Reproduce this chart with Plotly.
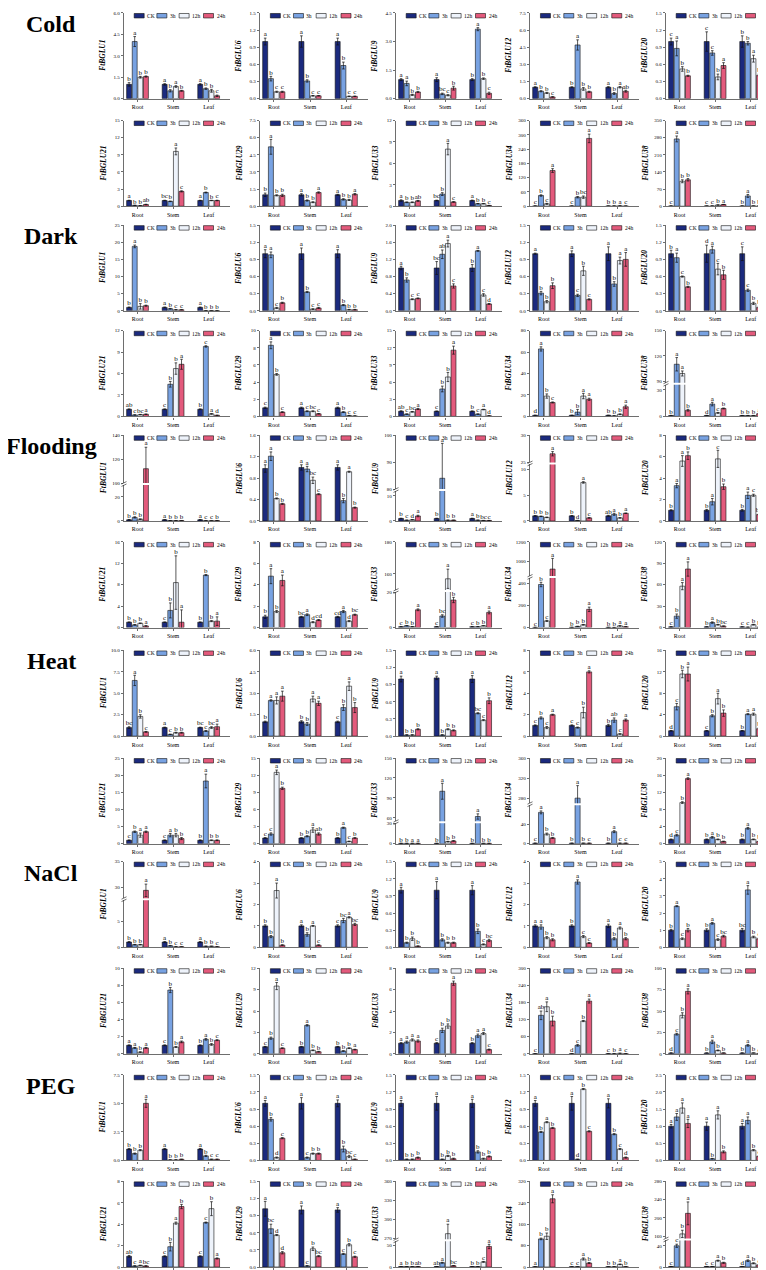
import plotly.graph_objects as go

W, H = 766, 1270
FONT = "Liberation Serif"
AXC = "#6e6e6e"

conditions = ["Cold", "Dark", "Flooding", "Heat", "NaCl", "PEG"]
genes = ["FtBGLU1", "FtBGLU6", "FtBGLU9", "FtBGLU12", "FtBGLU20",
         "FtBGLU21", "FtBGLU29", "FtBGLU33", "FtBGLU34", "FtBGLU38"]
tissues = ["Root", "Stem", "Leaf"]
times = ["CK", "3h", "12h", "24h"]
colors = ["#1b2a7e", "#78a2e2", "#eef3fb", "#e35a7c"]

# ---- values: each gene row = Root(CK,3h,12h,24h), Stem(...), Leaf(...) ----
cold_mean = [
    [1.0, 4.0, 1.5, 1.55, 1.0, 0.55, 0.85, 0.55, 1.0, 0.7, 0.55, 0.2],
    [1.0, 0.35, 0.12, 0.12, 1.0, 0.31, 0.05, 0.05, 1.0, 0.58, 0.04, 0.04],
    [1.0, 0.8, 0.2, 0.35, 1.0, 0.25, 0.18, 0.55, 1.0, 3.65, 1.05, 0.28],
    [1.0, 0.65, 0.5, 0.15, 1.0, 4.7, 0.85, 0.6, 1.0, 0.45, 1.0, 0.65],
    [1.0, 0.88, 0.52, 0.4, 1.0, 0.8, 0.38, 0.58, 1.0, 0.97, 0.7, 0.41],
    [1.0, 0.15, 0.1, 0.3, 1.0, 0.85, 9.6, 2.6, 1.0, 2.4, 1.0, 1.0],
    [1.0, 5.2, 0.95, 0.95, 1.0, 0.5, 0.35, 1.2, 1.0, 0.6, 0.55, 1.05],
    [0.8, 0.55, 0.55, 0.75, 0.8, 1.7, 8.0, 0.6, 0.8, 0.35, 0.35, 0.1],
    [1, 45, 10, 150, 1, 38, 38, 285, 1, 1, 1.5, 0.8],
    [1, 275, 102, 108, 1, 1, 5, 7, 1, 42, 1, 1],
]
cold_err = [
    [0.12, 0.35, 0.06, 0.04, 0.05, 0.08, 0.06, 0.03, 0.05, 0.05, 0.1, 0.05],
    [0.06, 0.04, 0.01, 0.01, 0.1, 0.02, 0.005, 0.005, 0.06, 0.06, 0.005, 0.005],
    [0.05, 0.12, 0.03, 0.03, 0.1, 0.04, 0.03, 0.1, 0.05, 0.08, 0.04, 0.06],
    [0.04, 0.05, 0.05, 0.03, 0.04, 0.45, 0.12, 0.05, 0.05, 0.08, 0.06, 0.08],
    [0.06, 0.13, 0.04, 0.01, 0.17, 0.04, 0.05, 0.05, 0.1, 0.03, 0.06, 0.02],
    [0.05, 0.02, 0.02, 0.05, 0.05, 0.05, 0.6, 0.1, 0.05, 0.08, 0.04, 0.05],
    [0.15, 0.65, 0.05, 0.1, 0.1, 0.05, 0.04, 0.06, 0.04, 0.06, 0.05, 0.06],
    [0.1, 0.05, 0.05, 0.06, 0.05, 0.2, 0.8, 0.05, 0.06, 0.03, 0.03, 0.02],
    [0.2, 3, 2, 8, 0.2, 3, 5, 18, 0.1, 0.1, 0.2, 0.1],
    [0.2, 12, 6, 5, 0.2, 0.2, 0.5, 0.5, 0.2, 6, 0.1, 0.1],
]
cold_letters = [
    "b a b b a b a b a b b c", "a b c c a b c c a b c c",
    "a a b b a bc c b b a b c", "a b b c b a b b a b a ab",
    "c a b b c c b a b b a b", "a b b ab bc b a c a b b c",
    "b a b b a b b a a b b a", "a b b ab bc b a c a b b c",
    "c b c a c b bc a b b a c", "c a b b c c b a b a b b",
]
cold_ymax = [6.0, 1.5, 4.5, 7.5, 1.5, 15, 7.5, 12, 360, 350]
cold_dtick = [1.5, 0.3, 1.5, 1.5, 0.3, 3, 1.5, 3, 60, 70]

dark_mean = [
    [1.0, 18.8, 1.3, 1.5, 1.0, 0.6, 0.3, 0.3, 1.0, 0.05, 0.05, 0.05],
    [1.0, 0.98, 0.05, 0.14, 1.0, 0.33, 0.03, 0.05, 1.0, 0.1, 0.02, 0.02],
    [1.0, 0.72, 0.27, 0.29, 1.0, 1.32, 1.57, 0.58, 1.0, 1.4, 0.37, 0.16],
    [1.0, 0.31, 0.16, 0.44, 1.0, 0.27, 0.7, 0.2, 1.0, 0.47, 0.88, 0.9],
    [1.0, 0.93, 0.6, 0.42, 1.0, 1.07, 0.73, 0.63, 1.0, 0.36, 0.13, 0.06],
    [1.0, 0.2, 0.25, 0.3, 1.0, 4.5, 6.7, 7.3, 1.0, 9.8, 0.35, 0.15],
    [1.0, 8.3, 4.9, 0.5, 1.0, 0.6, 0.6, 0.3, 1.0, 0.5, 0.1, 0.05],
    [0.9, 0.4, 0.8, 1.3, 0.9, 4.8, 6.9, 11.6, 0.9, 0.4, 1.2, 0.1],
    [1, 63, 19, 13, 1, 4, 19, 16, 1, 0.5, 2, 9],
    [1, 110, 99, 7, 1, 14, 4, 9, 1, 1, 1, 3],
]
dark_err = [
    [0.1, 0.4, 0.8, 0.15, 0.1, 0.1, 0.05, 0.05, 0.1, 0.01, 0.01, 0.01],
    [0.07, 0.05, 0.01, 0.01, 0.1, 0.01, 0.005, 0.01, 0.07, 0.01, 0.005, 0.005],
    [0.04, 0.05, 0.01, 0.01, 0.15, 0.1, 0.08, 0.05, 0.08, 0.01, 0.03, 0.01],
    [0.01, 0.03, 0.02, 0.05, 0.05, 0.02, 0.08, 0.01, 0.12, 0.04, 0.06, 0.12],
    [0.06, 0.08, 0.01, 0.01, 0.15, 0.06, 0.1, 0.08, 0.12, 0.02, 0.02, 0.02],
    [0.05, 0.02, 0.03, 0.03, 0.05, 0.4, 0.8, 0.7, 0.05, 0.1, 0.05, 0.02],
    [0.08, 0.4, 0.1, 0.05, 0.08, 0.05, 0.05, 0.03, 0.08, 0.05, 0.02, 0.01],
    [0.08, 0.03, 0.05, 0.1, 0.05, 0.5, 0.8, 0.7, 0.06, 0.03, 0.05, 0.02],
    [0.2, 2, 2, 0.5, 0.2, 2.5, 2.5, 1, 0.2, 0.1, 0.3, 1.5],
    [0.2, 8, 3, 1, 0.2, 2, 0.5, 0.5, 0.1, 0.1, 0.1, 0.5],
]
dark_letters = [
    "b a b b a b c c a b b b", "a a c b a b c c a b b b",
    "a b c c bc ab a c b a c d", "a b b b a c b c a b a a",
    "b a c b d a c b c c b b", "ab c bc a c b b a b c a d",
    "c a b c a c bc c a b c c", "ab c bc a c b b a b c a d",
    "d a b c b b a a b b b a", "b a a b d a c b b b b a",
]
dark_ymax = [25, 1.5, 2.0, 1.5, 1.5, 12, 10, 15, 80, None]
dark_dtick = [5, 0.3, 0.4, 0.3, 0.3, 3, 2, 3, 20, None]

flood_mean = [
    [1, 3, 1.5, 112, 1, 0.3, 0.3, 0.3, 1, 0.2, 0.2, 0.3],
    [0.98, 1.21, 0.42, 0.32, 1.0, 0.97, 0.76, 0.5, 1.0, 0.38, 0.92, 0.25],
    [1, 0.3, 0.5, 2, 1, 84, 0.3, 0.3, 1, 0.3, 0.2, 0.2],
    [1.0, 0.9, 0.7, 26.6, 1, 0.1, 7.5, 0.6, 1.0, 1.3, 0.6, 1.5],
    [1.0, 3.3, 5.6, 6.1, 1.0, 1.8, 5.8, 3.2, 1.0, 2.4, 2.4, 0.6],
    [1.0, 0.5, 0.8, 0.3, 1.0, 3.2, 8.4, 1.0, 1.0, 9.8, 1.2, 1.2],
    [1.0, 4.8, 1.5, 4.4, 1.0, 1.2, 0.5, 0.7, 1.0, 1.5, 0.6, 1.2],
    [0.5, 1, 0.5, 10, 0.5, 6.5, 157, 15.5, 0.5, 0.5, 1, 8.5],
    [2, 390, 60, 920, 2, 10, 25, 165, 2, 1, 15, 8],
    [1, 16, 58, 82, 1, 7, 4, 2, 1, 0.5, 4, 0.5],
]
flood_err = [
    [0.2, 0.5, 0.2, 18, 0.1, 0.05, 0.05, 0.05, 0.1, 0.05, 0.05, 0.05],
    [0.07, 0.08, 0.01, 0.01, 0.05, 0.05, 0.06, 0.01, 0.05, 0.04, 0.01, 0.01],
    [0.1, 0.05, 0.05, 0.3, 0.1, 13, 0.05, 0.05, 0.1, 0.05, 0.03, 0.03],
    [0.05, 0.05, 0.05, 0.4, 0.05, 0.02, 0.15, 0.05, 0.1, 0.2, 0.05, 0.05],
    [0.05, 0.2, 0.5, 0.35, 0.08, 0.3, 0.8, 0.25, 0.08, 0.3, 0.1, 0.05],
    [0.05, 0.05, 0.05, 0.05, 0.05, 1.4, 5.0, 2.3, 0.05, 0.1, 0.1, 0.8],
    [0.15, 0.7, 0.1, 0.5, 0.05, 0.08, 0.05, 0.05, 0.05, 0.1, 0.05, 0.05],
    [0.1, 0.1, 0.1, 0.5, 0.1, 0.7, 6, 1.5, 0.1, 0.1, 0.1, 0.8],
    [0.5, 20, 5, 110, 0.5, 2, 3, 20, 0.5, 0.3, 2, 1],
    [0.2, 3, 5, 10, 0.2, 1, 0.5, 0.3, 0.1, 0.1, 0.5, 0.1],
]
flood_letters = [
    "b b b a a b b b a c c b", "a a b b a a bc c a b a b",
    "b c d a b a b b a b bc c", "b b b a b d a c ab a b a",
    "b a a b b a c b b a c bc", "b b b a c b b a b b b a",
    "b a b a bc a d cd cd a d bc", "c b b a c bc a b c b b a",
    "c b c a b b b a b b a a", "c b a a b a b bc c c b b",
]
flood_ymax = [None, 1.6, None, None, 8, 16, 8, None, None, 120]
flood_dtick = [None, 0.4, None, None, 2, 4, 2, None, None, 30]

heat_mean = [
    [1.0, 6.5, 2.3, 0.5, 1.0, 0.2, 0.4, 0.4, 1.0, 0.6, 1.0, 1.1],
    [1.0, 2.5, 2.5, 2.8, 1.0, 0.85, 2.6, 2.3, 1.0, 2.0, 3.5, 2.0],
    [1.0, 0.02, 0.02, 0.12, 1.02, 0.02, 0.12, 0.1, 1.0, 0.4, 0.28, 0.62],
    [1.0, 1.7, 0.8, 2.0, 1.0, 0.8, 2.2, 6.0, 1.0, 1.5, 0.2, 1.5],
    [1.0, 5.5, 11.6, 11.6, 1.0, 3.8, 7.0, 4.3, 1.0, 4.1, 4.1, 1.4],
    [1, 3.5, 2.5, 3.5, 1, 2.5, 2.5, 1.5, 1, 18.3, 1, 1],
    [1, 1.7, 12.5, 9.7, 1, 1.3, 2.4, 1.7, 1, 2.8, 0.4, 1],
    [0.5, 0.5, 0.5, 0.5, 0.5, 100, 3, 4, 0.5, 62, 0.5, 0.5],
    [1, 65, 20, 12, 1, 280, 1, 1, 1, 25, 1, 1],
    [1, 2, 9.6, 15.2, 1, 1.5, 1, 0.5, 1, 3.6, 1, 0.5],
]
heat_err = [
    [0.1, 0.6, 0.2, 0.05, 0.05, 0.03, 0.05, 0.05, 0.05, 0.05, 0.1, 0.3],
    [0.05, 0.05, 0.25, 0.35, 0.08, 0.1, 0.2, 0.15, 0.05, 0.2, 0.3, 0.35],
    [0.05, 0.005, 0.005, 0.01, 0.03, 0.005, 0.01, 0.01, 0.06, 0.01, 0.01, 0.05],
    [0.05, 0.1, 0.1, 0.05, 0.05, 0.05, 0.5, 0.1, 0.1, 0.2, 0.02, 0.1],
    [0.05, 0.6, 0.7, 1.3, 0.05, 0.2, 1.0, 0.6, 0.05, 0.1, 0.2, 0.2],
    [0.1, 0.2, 0.6, 0.2, 0.1, 0.5, 0.5, 0.3, 0.1, 2.0, 0.1, 0.1],
    [0.05, 0.2, 0.4, 0.2, 0.05, 0.1, 0.4, 0.2, 0.05, 0.1, 0.05, 0.05],
    [0.1, 0.1, 0.1, 0.1, 0.1, 12, 0.5, 0.5, 0.1, 4, 0.1, 0.1],
    [0.2, 3, 2, 1, 0.2, 25, 0.2, 0.2, 0.2, 2, 0.2, 0.2],
    [0.1, 0.2, 0.2, 0.2, 0.1, 0.2, 0.1, 0.1, 0.1, 0.2, 0.1, 0.1],
]
heat_letters = [
    "bc a b c a c b b bc c bc a", "b a a a b b a a c b a b",
    "a b b b a b b b a bc c b", "c b c a c c b a b ab c a",
    "d c b a c b a b b a a b", "c b a a c a b b b a b b",
    "c c a b b b a ab b a c b", "b b a a b a b b b a b b",
    "c a b b b a b c b a c c", "d c b a b a b b b a b b",
]
heat_ymax = [10.0, 6.0, 1.5, 8, 16, 25, 15, None, None, 20]
heat_dtick = [2.5, 1.5, 0.3, 2, 4, 5, 3, None, None, 4]

nacl_mean = [
    [1, 0.5, 0.5, 29.5, 1, 0.3, 0.1, 0.1, 1, 0.2, 0.2, 0.1],
    [1.0, 0.5, 2.65, 0.1, 1.0, 0.6, 1.0, 0.1, 1.0, 1.25, 1.4, 1.07],
    [1.0, 0.08, 0.15, 0.02, 1.0, 0.13, 0.08, 0.08, 1.0, 0.28, 0.05, 0.12],
    [1.0, 0.95, 0.45, 0.35, 1.0, 3.05, 0.5, 0.2, 1.0, 0.4, 0.9, 0.4],
    [1.0, 2.4, 0.5, 1.0, 1.0, 1.4, 0.45, 0.65, 1.0, 3.35, 0.6, 0.5],
    [1.0, 0.7, 0.2, 0.7, 1.0, 7.45, 0.8, 1.4, 1.0, 1.7, 1.1, 1.6],
    [1.0, 2.2, 9.5, 0.8, 1.0, 4.0, 0.5, 0.3, 1.0, 0.4, 0.8, 0.6],
    [1.0, 1.1, 1.3, 1.2, 1.0, 2.2, 2.6, 6.6, 1.0, 1.7, 1.9, 0.4],
    [1, 135, 165, 115, 1, 30, 115, 185, 1, 1, 2, 1],
    [1, 23, 45, 73, 1, 14, 4, 1, 1, 10, 1, 0.5],
]
nacl_err = [
    [0.1, 0.05, 0.05, 1.2, 0.1, 0.05, 0.02, 0.02, 0.1, 0.03, 0.03, 0.02],
    [0.05, 0.05, 0.35, 0.02, 0.05, 0.08, 0.02, 0.02, 0.05, 0.1, 0.03, 0.05],
    [0.05, 0.01, 0.03, 0.005, 0.15, 0.02, 0.01, 0.01, 0.08, 0.04, 0.01, 0.02],
    [0.05, 0.1, 0.05, 0.05, 0.05, 0.1, 0.05, 0.02, 0.08, 0.05, 0.05, 0.05],
    [0.05, 0.03, 0.05, 0.1, 0.08, 0.05, 0.05, 0.05, 0.1, 0.25, 0.05, 0.05],
    [0.05, 0.05, 0.05, 0.05, 0.05, 0.3, 0.05, 0.1, 0.05, 0.1, 0.1, 0.05],
    [0.05, 0.15, 0.5, 0.05, 0.05, 0.1, 0.05, 0.05, 0.05, 0.05, 0.05, 0.05],
    [0.05, 0.1, 0.1, 0.1, 0.05, 0.2, 0.2, 0.2, 0.05, 0.15, 0.1, 0.05],
    [0.2, 15, 17, 17, 0.2, 3, 2, 7, 0.2, 0.2, 0.3, 0.2],
    [0.1, 1, 3, 3, 0.1, 2, 0.5, 0.1, 0.1, 1, 0.1, 0.1],
]
nacl_letters = [
    "b b b a a b c c a b b c", "b b a b a b a c c bc a bc",
    "a b b b a b b b a b c bc", "a a b b b a c c a b a b",
    "b a c b b a c bc bc a b c", "a a b a c b b a b a b c",
    "c b a c b a b b b b b a", "a a a a c b b a b a a c",
    "c ab a b d c b a c b a c", "d c b a b a b b b a b c",
]
nacl_ymax = [None, 4, 1.5, 4, 5, 10, 12, 8, 300, 100]
nacl_dtick = [None, 1, 0.3, 1, 1, 2, 3, 2, 60, 25]

peg_mean = [
    [1.0, 0.6, 0.9, 5.0, 1.0, 0.05, 0.05, 0.1, 1.0, 0.4, 0.1, 0.1],
    [1.0, 0.72, 0.05, 0.39, 1.0, 0.05, 0.12, 0.12, 1.0, 0.2, 0.07, 0.02],
    [1.0, 0.02, 0.02, 0.05, 1.0, 0.02, 0.08, 0.03, 1.0, 0.15, 0.03, 0.07],
    [1.0, 0.5, 0.67, 0.57, 1.0, 0.02, 1.25, 0.51, 1.0, 0.46, 0.2, 0.05],
    [1.0, 1.27, 1.53, 1.08, 1.0, 0.05, 1.33, 0.25, 1.0, 1.17, 0.3, 0.12],
    [1.0, 0.1, 0.15, 0.1, 1.0, 1.9, 4.1, 5.65, 1.0, 4.15, 5.45, 0.8],
    [1.02, 0.67, 0.56, 0.25, 1.0, 0.02, 0.32, 0.19, 1.0, 0.23, 0.39, 0.18],
    [1, 1, 1, 1, 1, 10, 277, 3, 1, 1, 12, 48],
    [1, 105, 115, 255, 1, 1, 30, 15, 1, 1, 10, 1],
    [1, 40, 165, 210, 1, 1, 12, 8, 1, 12, 7, 4],
]
peg_err = [
    [0.05, 0.05, 0.05, 0.35, 0.05, 0.01, 0.01, 0.02, 0.05, 0.05, 0.02, 0.02],
    [0.05, 0.03, 0.01, 0.01, 0.1, 0.01, 0.01, 0.01, 0.06, 0.05, 0.02, 0.005],
    [0.05, 0.005, 0.005, 0.01, 0.12, 0.005, 0.01, 0.01, 0.07, 0.02, 0.01, 0.01],
    [0.05, 0.01, 0.01, 0.01, 0.12, 0.005, 0.01, 0.01, 0.08, 0.01, 0.01, 0.01],
    [0.05, 0.1, 0.15, 0.12, 0.12, 0.01, 0.12, 0.03, 0.08, 0.1, 0.02, 0.02],
    [0.08, 0.02, 0.02, 0.02, 0.05, 0.4, 0.1, 0.2, 0.05, 0.05, 0.65, 0.05],
    [0.13, 0.08, 0.01, 0.02, 0.07, 0.005, 0.03, 0.01, 0.04, 0.01, 0.02, 0.01],
    [0.1, 0.1, 0.1, 0.1, 0.1, 1, 15, 0.5, 0.1, 0.1, 1, 5],
    [0.2, 3, 12, 15, 0.2, 0.2, 4, 2, 0.1, 0.1, 1, 0.1],
    [0.1, 3, 8, 25, 0.1, 0.1, 1, 1, 0.1, 1.5, 1, 0.5],
]
peg_letters = [
    "b b b a a b b b a b c c", "a b d c a c b b a b bc c",
    "a b b b a b b b a b b b", "a b a b a d b c a b c d",
    "a a a a a b a b a a b c", "ab c a bc c b a b c c b a",
    "a bc d d a c b bc a c b c", "a b b ab ab a a bc b b c a",
    "a b b a c c a b b b a b", "c c b a c c a b d a b c",
]
peg_ymax = [7.5, 1.5, 1.5, 1.5, 2.5, 8, 1.5, None, 320, None]
peg_dtick = [2.5, 0.3, 0.3, 0.3, 0.5, 2, 0.3, None, 80, None]

# broken y axes: lower range, fraction of height for lower part, upper range, ticks
breaks = {
    ("Dark", 9): dict(lo=(0, 36), frac=0.37, hi=(88, 150), lt=[0, 30], ht=[90, 120, 150]),
    ("Flooding", 0): dict(lo=(0, 30), frac=0.42, hi=(100, 140), lt=[0, 20], ht=[100, 120, 140]),
    ("Flooding", 2): dict(lo=(0, 12), frac=0.35, hi=(80, 100), lt=[0, 10], ht=[80, 90, 100]),
    ("Flooding", 3): dict(lo=(0, 11), frac=0.66, hi=(25, 30), lt=[0, 5, 10], ht=[25, 30]),
    ("Flooding", 7): dict(lo=(0, 20), frac=0.415, hi=(150, 180), lt=[0, 20], ht=[160, 180]),
    ("Flooding", 8): dict(lo=(0, 450), frac=0.58, hi=(850, 1200), lt=[0, 200, 400], ht=[1000, 1200]),
    ("Heat", 7): dict(lo=(0, 30), frac=0.24, hi=(55, 150), lt=[0, 30], ht=[60, 90, 120, 150]),
    ("Heat", 8): dict(lo=(0, 80), frac=0.45, hi=(270, 360), lt=[0, 40], ht=[280, 320, 360]),
    ("NaCl", 0): dict(lo=(0, 9), frac=0.55, hi=(28, 35), lt=[0, 5], ht=[30, 35]),
    ("PEG", 7): dict(lo=(0, 60), frac=0.30, hi=(268, 360), lt=[0, 50], ht=[270, 300, 330, 360]),
    ("PEG", 9): dict(lo=(0, 50), frac=0.31, hi=(155, 280), lt=[0, 40], ht=[160, 200, 240, 280]),
}

cond_sets = {
    "Cold": (cold_mean, cold_err, cold_letters, cold_ymax, cold_dtick),
    "Dark": (dark_mean, dark_err, dark_letters, dark_ymax, dark_dtick),
    "Flooding": (flood_mean, flood_err, flood_letters, flood_ymax, flood_dtick),
    "Heat": (heat_mean, heat_err, heat_letters, heat_ymax, heat_dtick),
    "NaCl": (nacl_mean, nacl_err, nacl_letters, nacl_ymax, nacl_dtick),
    "PEG": (peg_mean, peg_err, peg_letters, peg_ymax, peg_dtick),
}

# ---- layout geometry (pixels) ----
col_left = [116, 252, 388, 522, 658]
col_right = [222, 360, 494, 631, 764]
row_top = [3, 111, 216, 322, 427, 534, 643, 751, 855, 962, 1069, 1176]
PH = 86
GAP = 2
XRANGE = [-0.38, 2.6]
SLOT = 0.158
BARW = 0.138
leg_f = [0.096, 0.31, 0.52, 0.75]


def px(xp):
    return xp / W


def py(yp):
    return 1 - yp / H


fig = go.Figure()
lay = {}
shapes = []
annots = []
counter = [0]


def fmt(v):
    if abs(v - round(v)) < 1e-9:
        return str(int(round(v)))
    return ("%.1f" % v)


def new_axes(xd, yd, yrange, tvals, ttext, show_x):
    counter[0] += 1
    i = counter[0]
    sfx = "" if i == 1 else str(i)
    lay["xaxis" + sfx] = dict(
        domain=xd, range=XRANGE, anchor="y" + sfx, tickmode="array",
        tickvals=[0, 1, 2], ticktext=tissues, showline=show_x, linecolor=AXC,
        linewidth=1.4, ticks="outside" if show_x else "", ticklen=2, tickwidth=0.8,
        tickcolor=AXC, showticklabels=show_x, showgrid=False, zeroline=False,
        tickfont=dict(family=FONT, size=6, color="black"), fixedrange=True)
    lay["yaxis" + sfx] = dict(
        domain=yd, range=yrange, anchor="x" + sfx, tickmode="array",
        tickvals=tvals, ticktext=ttext, showline=True, linecolor=AXC,
        linewidth=1.4, ticks="outside", ticklen=2, tickwidth=0.8, tickcolor=AXC,
        showgrid=False, zeroline=False,
        tickfont=dict(family=FONT, size=5, color="black"), fixedrange=True)
    return "x" + sfx, "y" + sfx


def add_bars(xr, yr, mean, err):
    for k in range(4):
        xs = [i + (k - 1.5) * SLOT for i in range(3)]
        ys = [mean[i * 4 + k] for i in range(3)]
        es = [err[i * 4 + k] for i in range(3)]
        fig.add_trace(go.Bar(
            x=xs, y=ys, width=BARW, xaxis=xr, yaxis=yr,
            marker=dict(color=colors[k], line=dict(color="#111111", width=0.6)),
            error_y=dict(type="data", array=es, visible=True, color="#111111",
                         thickness=0.7, width=1.3),
            showlegend=False, hoverinfo="skip"))


def add_letters(xr, yr, mean, err, letters, idx):
    if not idx:
        return
    xs = [(j // 4) + (j % 4 - 1.5) * SLOT for j in idx]
    ys = [mean[j] + err[j] for j in idx]
    fig.add_trace(go.Scatter(
        x=xs, y=ys, text=[letters[j] for j in idx], mode="text",
        textposition="top center", cliponaxis=False, xaxis=xr, yaxis=yr,
        textfont=dict(family=FONT, size=7, color="#000000"),
        showlegend=False, hoverinfo="skip"))


for ci, cond in enumerate(conditions):
    mean_all, err_all, let_all, ymax_all, dt_all = cond_sets[cond]
    for g in range(10):
        rr, c = divmod(g, 5)
        R = ci * 2 + rr
        top = row_top[R]
        bot = top + PH
        left, right = col_left[c], col_right[c]
        xd = [px(left), px(right)]
        mean = mean_all[g]
        err = err_all[g]
        letters = let_all[g].split()
        key = (cond, g)
        if key in breaks:
            b = breaks[key]
            lo_h = b["frac"] * PH
            yd_lo = [py(bot), py(bot - lo_h)]
            yd_hi = [py(bot - lo_h - GAP), py(top)]
            xl, yl = new_axes(xd, yd_lo, list(b["lo"]), b["lt"], [fmt(v) for v in b["lt"]], True)
            xh, yh = new_axes(xd, yd_hi, list(b["hi"]), b["ht"], [fmt(v) for v in b["ht"]], False)
            add_bars(xl, yl, mean, err)
            add_bars(xh, yh, mean, err)
            tops = [mean[j] + err[j] for j in range(12)]
            add_letters(xl, yl, mean, err, letters, [j for j in range(12) if tops[j] <= b["lo"][1]])
            add_letters(xh, yh, mean, err, letters, [j for j in range(12) if tops[j] > b["lo"][1]])
            yb = bot - lo_h - GAP / 2
            for dy in (-1.2, 1.2):
                shapes.append(dict(type="line", xref="paper", yref="paper",
                                   x0=px(left - 2.5), x1=px(left + 2.5),
                                   y0=py(yb + dy + 1.2), y1=py(yb + dy - 1.2),
                                   line=dict(color="#333333", width=0.7)))
        else:
            ymax = ymax_all[g]
            dt = dt_all[g]
            nt = int(round(ymax / dt))
            tv = [round(i * dt, 6) for i in range(nt + 1)]
            if abs(dt - round(dt)) < 1e-9:
                tt = [str(int(round(v))) for v in tv]
            else:
                tt = ["%.1f" % v for v in tv]
            xa, ya = new_axes(xd, [py(bot), py(top)], [0, ymax], tv, tt, True)
            add_bars(xa, ya, mean, err)
            add_letters(xa, ya, mean, err, letters, list(range(12)))

        annots.append(dict(xref="paper", yref="paper", x=px(left - 21), y=py(top + PH / 2),
                           text="<b><i>%s</i></b>" % genes[g], textangle=-90, showarrow=False,
                           font=dict(family=FONT, size=7.5, color="black"),
                           xanchor="center", yanchor="middle"))
        wpx = right - left
        for k in range(4):
            x0 = left + leg_f[k] * wpx
            shapes.append(dict(type="rect", xref="paper", yref="paper",
                               x0=px(x0), x1=px(x0 + 10), y0=py(top + 5), y1=py(top + 0.5),
                               fillcolor=colors[k], line=dict(color="#111111", width=0.6)))
            annots.append(dict(xref="paper", yref="paper", x=px(x0 + 11), y=py(top + 2.8),
                               text=times[k], showarrow=False, xanchor="left", yanchor="middle",
                               font=dict(family=FONT, size=5.5, color="black")))
    annots.append(dict(xref="paper", yref="paper", x=px(43), y=py(row_top[ci * 2] + 11),
                       text="<b>%s</b>" % cond, showarrow=False, xanchor="center",
                       yanchor="middle", font=dict(family=FONT, size=24, color="black")))

fig.update_layout(
    width=W, height=H, margin=dict(l=0, r=0, t=0, b=0),
    paper_bgcolor="white", plot_bgcolor="white", barmode="overlay",
    showlegend=False, shapes=shapes, annotations=annots, **lay)

fig.write_html("out.html")
